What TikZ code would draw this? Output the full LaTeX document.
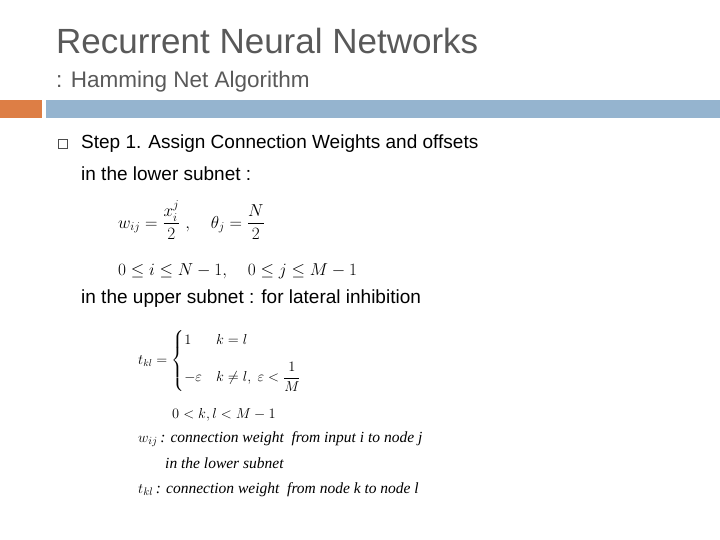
\documentclass[tikz,border=0pt]{standalone}
\usepackage{amsmath}
\usepackage{fontspec}
\setmainfont{Liberation Sans}
\newfontfamily\serifit{Liberation Serif}
\definecolor{tgray}{HTML}{595959}
\definecolor{orng}{HTML}{DD7E45}
\definecolor{blu}{HTML}{95B4CF}
\begin{document}
\begin{tikzpicture}[x=1pt,y=-1pt,
  txt/.style={anchor=base west,inner sep=0pt,text=black,font=\fontsize{19}{22}\selectfont}]
\useasboundingbox (0,0) rectangle (720,540);
\node[anchor=base west,inner sep=0pt,text=tgray,font=\fontsize{35}{40}\selectfont] (title) at (56,54) {Recurrent Neural Networks};
\node[anchor=base west,inner sep=0pt,text=tgray,font=\fontsize{22.5}{26}\selectfont] (sub) at (56,88) {: Hamming Net Algorithm};
\fill[orng] (0,100) rectangle (42,118);
\fill[blu] (46,100) rectangle (720,118);
\draw[black!70,line width=0.8] (58,139) rectangle (67,148);
\node[txt] (s1) at (81,149) {Step 1. Assign Connection Weights and offsets};
\node[txt] (s2) at (81,181) {in the lower subnet :};
\node[anchor=north west,inner sep=0pt,font=\fontsize{18}{22}\selectfont] (f1) at (118,200) {$\displaystyle w_{ij}=\frac{x_i^j}{2}\ ,\quad \theta_j=\frac{N}{2}$};
\node[anchor=base west,inner sep=0pt,font=\fontsize{18}{22}\selectfont] (f2) at (118,275) {$0\le i\le N-1,\quad 0\le j\le M-1$};
\node[txt] (s3) at (81,303) {in the upper subnet : for lateral inhibition};
\node[anchor=north west,inner sep=0pt,font=\fontsize{14}{17}\selectfont] (f3) at (138,330) {$t_{kl}=\begin{cases}1 & k=l\\[12pt] -\varepsilon & k\ne l,\ \varepsilon<\dfrac{1}{M}\end{cases}$};
\node[anchor=base west,inner sep=0pt,font=\fontsize{15}{18}\selectfont] (f4) at (172,418) {$0<k,l<M-1$};
\node[anchor=base west,inner sep=0pt,font=\fontsize{15.5}{18}\selectfont] (f5) at (138,442) {$w_{ij}$\,\serifit\itshape: connection weight\ \ from input i to node j};
\node[anchor=base west,inner sep=0pt,font=\fontsize{15.5}{18}\selectfont\serifit\itshape] (f6) at (165,468) {in the lower subnet};
\node[anchor=base west,inner sep=0pt,font=\fontsize{15.5}{18}\selectfont] (f7) at (138,493) {$t_{kl}$\,\serifit\itshape: connection weight\ \ from node k to node l};
\end{tikzpicture}
\end{document}
